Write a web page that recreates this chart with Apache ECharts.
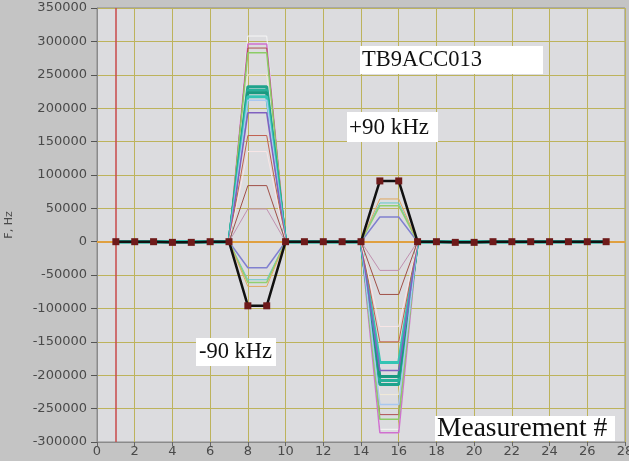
<!DOCTYPE html>
<html>
<head>
<meta charset="utf-8">
<script src="https://cdn.jsdelivr.net/npm/echarts@6/dist/echarts.min.js"></script>
<style>
html,body{margin:0;padding:0;background:#c4c4c4;}
#chart{width:629px;height:461px;}
</style>
</head>
<body>
<div id="chart"></div>
<script>
// Measurement numbers (x)
const measurement = [1,2,3,4,5,6,7,8,9,10,11,12,13,14,15,16,17,18,19,20,21,22,23,24,25,26,27];
// Reference (black) series: F, Hz at each measurement
const blackSeries = [0,0,0,-1000,-1000,0,0,-96000,-96000,0,0,0,0,0,91000,91000,0,0,-1000,-1000,0,0,0,0,0,0,0];
// Coloured series: frequency at measurements 8–9 and at 15–16 (zero elsewhere)
const levelAt8 = [308000,296000,290000,283000,250000,232000,227000,223000,217000,212000,193000,159000,135000,84000,49000,-39000,-57000,-61000,-67000];
const levelAt15 = [-281000,-286000,-259000,-266000,-229000,-214000,-208000,-202000,-181000,-244000,-193000,-150000,-127000,-79000,-43000,37000,58000,54000,64000];
const seriesColors = ['#f6f6f6','#d070d0','#b05050','#8ccc66','#f2ead8','#1fa38c','#28b09a','#1a9980','#34c4b4','#a8c8f0','#8060c0','#c06050','#f8e6e6','#a05048','#c090b0','#8080d0','#60c8c8','#90d070','#e0a860'];
const seriesWidths = [1,1.5,1,1.5,1,3,3,3,3,1.5,1.5,1,1,1,1,1.5,1,1.5,1];
// Axis ticks
const xTicks = {min:0, max:28, interval:2};
const yTicks = {min:-300000, max:350000, interval:50000};

const chart = echarts.init(document.getElementById('chart'));
const series = [];
levelAt8.forEach((v8, i) => {
  const data = measurement.map(m => {
    let v = 0;
    if (m === 8 || m === 9) v = v8;
    else if (m === 15 || m === 16) v = levelAt15[i];
    return [m, v];
  });
  series.push({
    type:'line', data, symbol:'none', silent:true,
    lineStyle:{color:seriesColors[i], width:seriesWidths[i]},
    z:2
  });
});
series.push({
  type:'line',
  data: measurement.map((m, i) => [m, blackSeries[i]]),
  symbol:'rect', symbolSize:7,
  itemStyle:{color:'#6e1a1a'},
  lineStyle:{color:'#111', width:2.5},
  z:5,
  markLine:{
    silent:true, symbol:'none', label:{show:false},
    data:[
      {xAxis:1, lineStyle:{color:'#c84a4a', width:1.5, type:'solid'}},
      {yAxis:0, lineStyle:{color:'#e0a040', width:2, type:'solid'}}
    ]
  }
});

const axisFont = {fontFamily:'DejaVu Sans', fontSize:13, color:'#4a4a4a'};
chart.setOption({
  backgroundColor:'#c4c4c4',
  animation:false,
  grid:{left:97, right:4, top:8, bottom:19, containLabel:false, outerBoundsMode:'none',
        show:true, backgroundColor:'#dcdcdf', borderColor:'#8a8a8a', borderWidth:1},
  xAxis:{
    type:'value', min:xTicks.min, max:xTicks.max, interval:xTicks.interval,
    axisLine:{show:true, onZero:false, lineStyle:{color:'#8a8a8a'}},
    axisTick:{show:true, length:4, lineStyle:{color:'#666'}},
    axisLabel:Object.assign({margin:3, showMaxLabel:true, showMinLabel:true}, axisFont),
    splitLine:{show:true, lineStyle:{color:'#bdb35c', width:1}}
  },
  yAxis:{
    type:'value', min:yTicks.min, max:yTicks.max, interval:yTicks.interval,
    name:'F, Hz', nameLocation:'middle', nameGap:82,
    nameTextStyle:{fontFamily:'DejaVu Sans', fontSize:11, color:'#4a4a4a'},
    axisLine:{show:true, onZero:false, lineStyle:{color:'#8a8a8a'}},
    axisTick:{show:true, length:6, lineStyle:{color:'#555'}},
    axisLabel:Object.assign({margin:10, formatter: v => String(v)}, axisFont),
    splitLine:{show:true, lineStyle:{color:'#bdb35c', width:1}}
  },
  series,
  graphic:[
    {type:'rect', shape:{x:360,y:46,width:183,height:28}, style:{fill:'#ffffff'}, z:10},
    {type:'text', x:362, y:60, style:{text:'TB9ACC013', font:'22.5px "Liberation Serif"', fill:'#111', textVerticalAlign:'middle'}, z:11},
    {type:'rect', shape:{x:347,y:112,width:91,height:30}, style:{fill:'#ffffff'}, z:10},
    {type:'text', x:349, y:128, style:{text:'+90 kHz', font:'23px "Liberation Serif"', fill:'#111', textVerticalAlign:'middle'}, z:11},
    {type:'rect', shape:{x:196,y:338,width:80,height:28}, style:{fill:'#ffffff'}, z:10},
    {type:'text', x:199, y:352, style:{text:'-90 kHz', font:'22.5px "Liberation Serif"', fill:'#111', textVerticalAlign:'middle'}, z:11},
    {type:'rect', shape:{x:435,y:416,width:180,height:25}, style:{fill:'#ffffff'}, z:10},
    {type:'text', x:437, y:429, style:{text:'Measurement #', font:'27.5px "Liberation Serif"', fill:'#111', textVerticalAlign:'middle'}, z:11}
  ]
});
</script>
</body>
</html>
